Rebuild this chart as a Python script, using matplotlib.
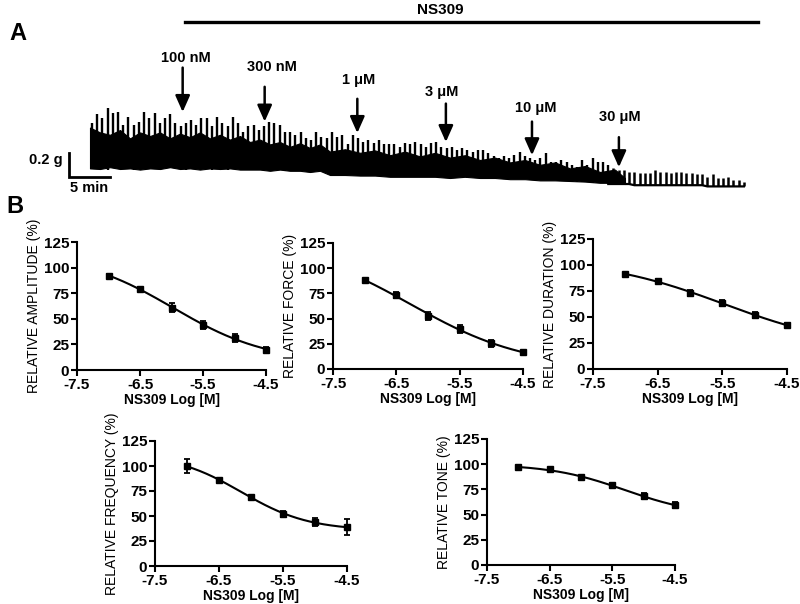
import numpy as np
import matplotlib
matplotlib.use("Agg")
import matplotlib.pyplot as plt

plt.rcParams['font.family'] = ['Liberation Sans', 'DejaVu Sans']

# ---------------- Panel A: isometric tension recording ----------------
# contraction peaks (g) in order of occurrence
trace_peaks = [
    0.56, 0.63, 0.60, 0.68, 0.64, 0.65, 0.54, 0.61, 0.54, 0.57, 0.65, 0.60, 0.64, 0.56, 0.60, 0.63, 0.56, 0.53,
    0.56, 0.58, 0.54, 0.60, 0.60, 0.53, 0.61, 0.56, 0.53, 0.61, 0.56, 0.48, 0.53, 0.54, 0.50, 0.53, 0.57,
    0.56, 0.54, 0.48, 0.48, 0.46, 0.48, 0.43, 0.42, 0.48, 0.44, 0.43, 0.48, 0.44, 0.46, 0.38, 0.46, 0.43,
    0.40, 0.42, 0.39, 0.42, 0.38, 0.38, 0.38, 0.36, 0.39, 0.38, 0.40, 0.38, 0.36, 0.39, 0.40,
    0.36, 0.35, 0.36, 0.33, 0.35, 0.33, 0.32, 0.33, 0.33, 0.31, 0.28, 0.27, 0.28, 0.27, 0.29, 0.32, 0.28,
    0.27, 0.25, 0.27, 0.31, 0.23, 0.23, 0.25, 0.23, 0.21, 0.19,
    0.25, 0.21, 0.27, 0.23, 0.23, 0.21,
    0.18, 0.17, 0.17, 0.15, 0.15, 0.14, 0.14, 0.14, 0.17, 0.15, 0.15, 0.14, 0.15, 0.15, 0.14, 0.14, 0.13,
    0.13, 0.11, 0.13, 0.10, 0.10, 0.11, 0.08, 0.08, 0.07,
]
# resting tension between contractions (g)
trace_troughs = [
    0.18, 0.19, 0.18, 0.17, 0.18, 0.19, 0.18, 0.18, 0.17, 0.18, 0.19, 0.18, 0.18, 0.17, 0.18, 0.18, 0.19, 0.18,
    0.17, 0.18, 0.18, 0.19, 0.18, 0.17, 0.18, 0.18, 0.17, 0.18, 0.18, 0.17, 0.18, 0.17, 0.17, 0.18, 0.17,
    0.17, 0.17, 0.16, 0.17, 0.17, 0.16, 0.17, 0.16, 0.17, 0.16, 0.16, 0.17, 0.16, 0.16, 0.13, 0.13, 0.12,
    0.13, 0.12, 0.13, 0.12, 0.12, 0.13, 0.12, 0.12, 0.11, 0.12, 0.11, 0.11, 0.12, 0.11, 0.11,
    0.11, 0.11, 0.10, 0.11, 0.11, 0.10, 0.11, 0.10, 0.10, 0.11, 0.10, 0.10, 0.10, 0.09, 0.10, 0.09, 0.09,
    0.09, 0.09, 0.08, 0.09, 0.08, 0.08, 0.08, 0.08, 0.07, 0.07,
    0.07, 0.07, 0.06, 0.06, 0.06, 0.05,
    0.05, 0.05, 0.05, 0.05, 0.04, 0.04, 0.04, 0.04, 0.04, 0.04, 0.04, 0.04, 0.04, 0.04, 0.04, 0.04, 0.04,
    0.04, 0.03, 0.03, 0.03, 0.03, 0.03, 0.03, 0.03, 0.03,
]
trace_start_min = 0.24
contraction_period_min = 0.636
n_dense = 100  # contractions before the trace breaks into discrete spikes

# solid body of the dense recording (min, g)
band_t = [0, 1.22, 2.44, 3.66, 4.88, 6.10, 7.32, 8.54, 9.76, 10.98, 12.20, 13.41, 14.63, 15.85, 17.07,
          18.29, 19.51, 20.73, 21.95, 23.17, 24.39, 25.61, 26.83, 28.05, 29.27, 31.10, 32.93, 34.76,
          36.59, 38.41, 40.24, 42.07, 43.90, 45.73, 47.56, 49.39, 51.22, 53.05, 54.88, 56.71, 58.54,
          60.37, 62.20, 64.02, 65.24]
band_top = [0.52, 0.48, 0.46, 0.50, 0.43, 0.48, 0.45, 0.48, 0.43, 0.47, 0.44, 0.48, 0.43, 0.46, 0.42,
            0.45, 0.40, 0.42, 0.38, 0.40, 0.36, 0.39, 0.35, 0.38, 0.32, 0.34, 0.31, 0.33, 0.29, 0.32,
            0.28, 0.31, 0.27, 0.29, 0.25, 0.27, 0.23, 0.25, 0.21, 0.23, 0.18, 0.20, 0.15, 0.17, 0.10]
band_bottom = [0.18, 0.175, 0.19, 0.175, 0.18, 0.17, 0.18, 0.175, 0.19, 0.175, 0.18, 0.17, 0.18, 0.175,
               0.18, 0.17, 0.17, 0.17, 0.16, 0.17, 0.16, 0.16, 0.15, 0.16, 0.125, 0.125, 0.12, 0.12,
               0.11, 0.11, 0.11, 0.11, 0.10, 0.11, 0.10, 0.10, 0.09, 0.09, 0.08, 0.08, 0.075, 0.07,
               0.06, 0.06, 0.05]

# NS309 cumulative additions
add_labels = ["100 nM", "300 nM", "1 \u03bcM", "3 \u03bcM", "10 \u03bcM", "30 \u03bcM"]
add_times = [11.3, 21.3, 32.6, 43.4, 53.9, 64.5]
ns309_start, ns309_end = 11.6, 81.5

# ---------------- Panel B: concentration-response ----------------
log_conc = [-7.0, -6.5, -6.0, -5.5, -5.0, -4.5]
amplitude = [92, 79.5, 61, 44, 31.5, 20]
amplitude_sem = [1.5, 2, 4, 4, 4, 2.5]
force = [87.8, 73.4, 53, 40, 25.7, 16.5]
force_sem = [1.5, 3, 4, 4, 3.5, 1.5]
duration = [91, 85, 73, 63.5, 52, 42]
duration_sem = [1.5, 1.5, 3, 3, 3, 2]
frequency = [99.7, 86, 69, 52, 44, 38.6]
frequency_sem = [7, 2, 2, 3, 4, 8]
tone = [96.8, 95, 87, 79, 68, 59.4]
tone_sem = [1, 1, 1.5, 2, 3, 3]

x_ticks = [-7.5, -6.5, -5.5, -4.5]
y_ticks = [0, 25, 50, 75, 100, 125]

W, H = 800, 604
fig = plt.figure(figsize=(8, 6.04), dpi=100)


def px_axes(left, right, top, bottom):
    return fig.add_axes([left / W, 1 - bottom / H, (right - left) / W, (bottom - top) / H])


# ---- Panel A ----
axA = px_axes(50, 770, 0, 200)
axA.set_xlim(-4.878, 82.927)
axA.set_ylim(-0.0833, 1.5833)
axA.axis('off')

times = trace_start_min + contraction_period_min * np.arange(len(trace_peaks))
peaks = np.asarray(trace_peaks)
troughs = np.asarray(trace_troughs)
axA.fill_between(band_t, band_bottom, band_top, color='k', lw=0.8, edgecolor='k')
axA.vlines(times[:n_dense], troughs[:n_dense], peaks[:n_dense], color='k', lw=1.7)
# late part: discrete spikes on a flat baseline
axA.vlines(times[n_dense:], troughs[n_dense:], peaks[n_dense:], color='k', lw=1.8)
axA.plot(times[n_dense - 1:], troughs[n_dense - 1:], color='k', lw=1.6)

# scale bars
axA.plot([-2.56, -2.56, 2.44], [0.308, 0.108, 0.108], color='k', lw=2, solid_joinstyle='miter')
axA.text(-3.3, 0.25, "0.2 g", ha='right', va='center', fontsize=10.5, fontweight='bold')
axA.text(-0.1, 0.02, "5 min", ha='center', va='center', fontsize=10.5, fontweight='bold')

# NS309 bar
axA.plot([ns309_start, ns309_end], [1.40, 1.40], color='k', lw=2.4)
axA.text(42.7, 1.50, "NS309", ha='center', va='center', fontsize=11, fontweight='bold')

arrow_tip = [0.65, 0.57, 0.475, 0.40, 0.29, 0.19]
arrow_tail = [1.02, 0.86, 0.76, 0.72, 0.57, 0.44]
label_y = [1.10, 1.025, 0.917, 0.817, 0.683, 0.608]
label_dx = [0.4, 0.9, 0.1, -0.5, 0.5, 0.1]
for t, lab, tip, tail, ly, dx in zip(add_times, add_labels, arrow_tip, arrow_tail, label_y, label_dx):
    axA.annotate("", xy=(t, tip), xytext=(t, tail),
                 arrowprops=dict(arrowstyle='-|>,head_length=0.9,head_width=0.4', color='k', lw=1.8,
                                 mutation_scale=11, shrinkA=0, shrinkB=0))
    axA.text(t + dx, ly, lab, ha='center', va='center', fontsize=10.5, fontweight='bold')

fig.text(9 / W, 1 - 33 / H, "A", fontsize=17, fontweight='bold', va='center', ha='left')
fig.text(6 / W, 1 - 206 / H, "B", fontsize=17, fontweight='bold', va='center', ha='left')


# ---- Panel B ----
def fit_4pl(x, y):
    x = np.asarray(x, float)
    y = np.asarray(y, float)
    best = None
    for ec in np.linspace(-8.5, -3.0, 221):
        for hill in np.linspace(0.3, 3.0, 109):
            s = 1.0 / (1.0 + 10 ** ((x - ec) * hill))
            A = np.column_stack([np.ones_like(x), s])
            coef, *_ = np.linalg.lstsq(A, y, rcond=None)
            r = np.sum((A @ coef - y) ** 2)
            if best is None or r < best[0]:
                best = (r, ec, hill, coef)
    _, ec, hill, coef = best
    return lambda xx: coef[0] + coef[1] / (1.0 + 10 ** ((xx - ec) * hill))


panels = [
    ((77, 266, 242, 370), amplitude, amplitude_sem, "RELATIVE AMPLITUDE (%)"),
    ((333, 523, 243, 369), force, force_sem, "RELATIVE FORCE (%)"),
    ((593, 787, 239, 369), duration, duration_sem, "RELATIVE DURATION (%)"),
    ((155, 347, 441, 566), frequency, frequency_sem, "RELATIVE FREQUENCY (%)"),
    ((487, 675, 439, 565), tone, tone_sem, "RELATIVE TONE (%)"),
]

for (l, r, t, b), vals, sem, ylab in panels:
    ax = px_axes(l, r, t, b)
    ax.set_xlim(-7.5, -4.5)
    ax.set_ylim(0, 125)
    for s in ('top', 'right'):
        ax.spines[s].set_visible(False)
    for s in ('left', 'bottom'):
        ax.spines[s].set_linewidth(1.5)
    f = fit_4pl(log_conc, vals)
    xx = np.linspace(min(log_conc), max(log_conc), 200)
    ax.plot(xx, f(xx), color='k', lw=1.5, clip_on=False)
    ax.errorbar(log_conc, vals, yerr=sem, fmt='s', color='k', ms=4.5, elinewidth=1.3,
                capsize=2.5, capthick=1.3, clip_on=False)
    ax.set_xticks(x_ticks)
    ax.set_xticklabels([f"{v:g}" for v in x_ticks])
    ax.set_yticks(y_ticks)
    ax.tick_params(direction='out', length=4, width=1.5, labelsize=11, pad=1.5)
    for lbl in ax.get_xticklabels() + ax.get_yticklabels():
        lbl.set_fontweight('bold')
    ax.set_xlabel("NS309 Log [M]", fontsize=10, fontweight='bold', labelpad=1)
    ax.set_ylabel(ylab, fontsize=10, labelpad=2)

fig.savefig("out.png", dpi=100)
